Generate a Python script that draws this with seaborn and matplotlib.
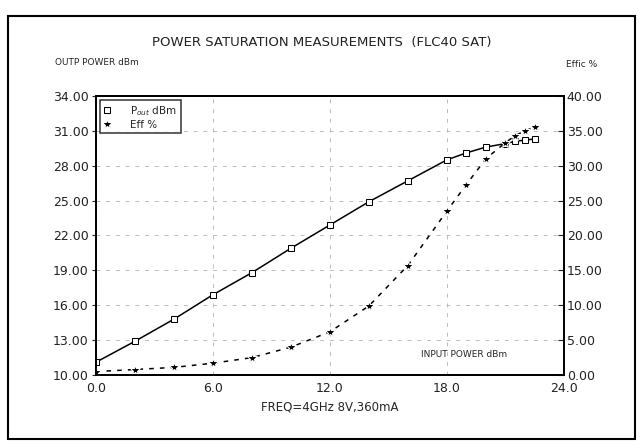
import matplotlib
matplotlib.use("Agg")
import matplotlib.pyplot as plt
import seaborn as sns
import pandas as pd
from matplotlib.patches import Rectangle

# Data
input_power = [0, 2, 4, 6, 8, 10, 12, 14, 16, 18, 19, 20, 21, 21.5, 22, 22.5]
pout_dbm = [11.1, 12.9, 14.8, 16.9, 18.8, 20.9, 22.9, 24.9, 26.7, 28.5, 29.1, 29.6, 29.9, 30.1, 30.2, 30.3]
eff_pct = [0.5, 0.8, 1.1, 1.7, 2.5, 4.0, 6.2, 9.9, 15.7, 23.5, 27.3, 31.0, 33.3, 34.3, 35.0, 35.5]

x_ticks = [0, 6, 12, 18, 24]
left_ticks = [10, 13, 16, 19, 22, 25, 28, 31, 34]
right_ticks = [0, 5, 10, 15, 20, 25, 30, 35, 40]

df = pd.DataFrame({"pin": input_power, "pout": pout_dbm, "eff": eff_pct})

sns.set_style("white")
plt.rcParams['font.family'] = ['DejaVu Sans']

fig = plt.figure(figsize=(6.43, 4.46), dpi=100)
ax = fig.add_axes([0.149, 0.159, 0.728, 0.626])
ax2 = ax.twinx()

sns.lineplot(data=df, x="pin", y="pout", ax=ax, color="black", linewidth=1.1,
             marker="s", markersize=5, markerfacecolor="white", markeredgecolor="black",
             label="P$_{out}$ dBm", legend=False)
sns.lineplot(data=df, x="pin", y="eff", ax=ax2, color="black", linewidth=1.1,
             linestyle=(0, (3, 4)), marker="*", markersize=7, label="Eff %", legend=False)

ax.set_xlim(0, 24)
ax.set_ylim(10, 34)
ax2.set_ylim(0, 40)
ax.set_xticks(x_ticks)
ax.set_xticklabels([f"{v:.1f}" for v in x_ticks], fontsize=9)
ax.set_yticks(left_ticks)
ax.set_yticklabels([f"{v:.2f}" for v in left_ticks], fontsize=9)
ax2.set_yticks(right_ticks)
ax2.set_yticklabels([f"{v:.2f}" for v in right_ticks], fontsize=9)
ax.set_xlabel("FREQ=4GHz 8V,360mA", fontsize=8.5)
ax.set_ylabel("")
ax2.set_ylabel("")
ax.tick_params(axis="both", length=3, width=0.8, pad=2, colors="#222222")
ax2.tick_params(axis="y", direction="in", length=4, width=0.8, pad=2, colors="#222222")

ax.grid(True, color="#bbbbbb", linestyle=(0, (4, 6)), linewidth=0.7)
for a in (ax, ax2):
    for sp in a.spines.values():
        sp.set_linewidth(1.3)
        sp.set_color("black")

# legend box
h1, l1 = ax.get_legend_handles_labels()
h2, l2 = ax2.get_legend_handles_labels()
leg = ax2.legend(h1 + h2, l1 + l2, loc="upper left", fontsize=7.5, frameon=True,
                 fancybox=False, edgecolor="black", borderpad=0.35, labelspacing=0.2,
                 handlelength=0.8, handletextpad=1.8, borderaxespad=0,
                 bbox_to_anchor=(0.008, 0.985))
leg.get_frame().set_linewidth(1.1)
for line in leg.get_lines():
    line.set_linestyle("none")

ax.text(18.9, 11.75, "INPUT POWER dBm", fontsize=6.5, ha="center", va="center")

fig.text(0.5, 0.905, "POWER SATURATION MEASUREMENTS  (FLC40 SAT)", fontsize=9.5,
         ha="center", va="center", color="#222222")
fig.text(0.085, 0.86, "OUTP POWER dBm", fontsize=6.5, ha="left", va="center")
fig.text(0.88, 0.855, "Effic %", fontsize=6.5, ha="left", va="center")

fig.patches.append(Rectangle((0.013, 0.015), 0.975, 0.95, transform=fig.transFigure,
                             fill=False, edgecolor="black", linewidth=1.5))

fig.savefig("out.png", dpi=100)
